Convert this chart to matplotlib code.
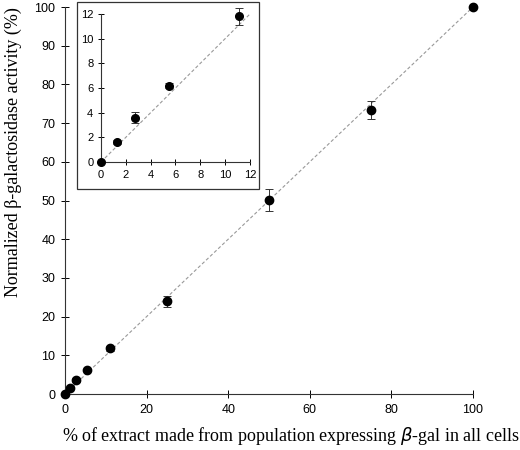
import matplotlib
matplotlib.use("Agg")
import matplotlib.pyplot as plt
from matplotlib.patches import Rectangle

# data
pct_extract = [0, 1.3, 2.7, 5.5, 11.1, 25, 50, 75, 100]
activity = [0, 1.6, 3.6, 6.2, 11.8, 24.0, 50.1, 73.4, 100]
activity_err = [0, 0.15, 0.45, 0.2, 0.7, 1.4, 2.8, 2.3, 0]

main_ticks_x = [0, 20, 40, 60, 80, 100]
main_ticks_y = list(range(0, 101, 10))
inset_ticks = [0, 2, 4, 6, 8, 10, 12]

fig = plt.figure(figsize=(5.2, 4.5), dpi=100)
ax = fig.add_axes([0.125, 0.1244, 0.7846, 0.86])

ax.plot([0, 100], [0, 100], color="#999999", lw=0.8, ls=(0, (3, 2)), zorder=1)
ax.errorbar(pct_extract, activity, yerr=activity_err, fmt="o", color="black",
            ms=6, elinewidth=0.7, capsize=3, capthick=0.7, ecolor="#333333", zorder=3,
            clip_on=False)

ax.set_xlim(0, 100)
ax.set_ylim(0, 100)
ax.set_xticks(main_ticks_x)
ax.set_yticks(main_ticks_y)
for s in ["top", "right"]:
    ax.spines[s].set_visible(False)
for s in ["left", "bottom"]:
    ax.spines[s].set_linewidth(0.8)
    ax.spines[s].set_color("#333333")
ax.tick_params(direction="inout", length=6, width=0.7, labelsize=9, pad=4)
for lab in ax.get_xticklabels() + ax.get_yticklabels():
    lab.set_family("Liberation Sans")

ax.set_xlabel(r"% of extract made from population expressing $\beta$-gal in all cells",
              family="Liberation Serif", fontsize=13, va="center")
ax.xaxis.set_label_coords(0.554, -0.108)
ax.set_ylabel("Normalized β-galactosidase activity (%)",
              family="Liberation Serif", fontsize=13, va="center")
ax.yaxis.set_label_coords(-0.127, 0.625)

# inset frame
fig.patches.append(Rectangle((0.148, 0.58), 0.35, 0.4156, transform=fig.transFigure,
                             fill=True, facecolor="white", edgecolor="#333333",
                             lw=0.9, zorder=5))

ins = fig.add_axes([0.1942, 0.64, 0.2865, 0.3289])
ins.set_zorder(6)
ins.patch.set_alpha(0)
ins.plot([0, 12], [0, 12], color="#999999", lw=0.8, ls=(0, (3, 2)), zorder=1)
ins.errorbar(pct_extract[:5], activity[:5], yerr=activity_err[:5], fmt="o", color="black",
             ms=5.5, elinewidth=0.7, capsize=3, capthick=0.7, ecolor="#333333", zorder=3,
             clip_on=False)
ins.set_xlim(0, 12)
ins.set_ylim(0, 12)
ins.set_xticks(inset_ticks)
ins.set_yticks(inset_ticks)
for s in ["top", "right"]:
    ins.spines[s].set_visible(False)
for s in ["left", "bottom"]:
    ins.spines[s].set_linewidth(0.8)
    ins.spines[s].set_color("#333333")
ins.tick_params(direction="inout", length=5, width=0.7, labelsize=8, pad=3)
for lab in ins.get_xticklabels() + ins.get_yticklabels():
    lab.set_family("Liberation Sans")

fig.savefig("out.png", dpi=100)
